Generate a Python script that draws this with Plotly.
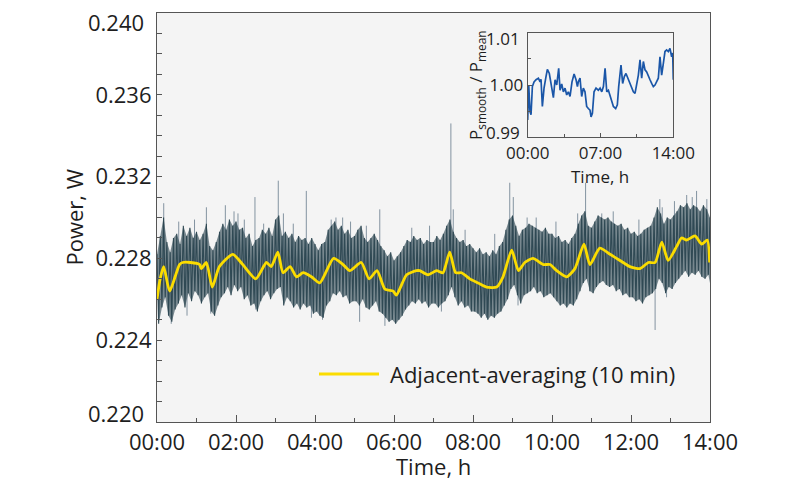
import plotly.graph_objects as go

# ---------------- data ----------------
# raw signal envelope per 5-min bin (hours, W): upper and lower excursions
raw_t = [i / 12 for i in range(169)]
raw_hi = [
    0.2282, 0.2291, 0.2300, 0.2288, 0.2283, 0.2290, 0.2292, 0.2287, 0.2296, 0.2291, 0.2295, 0.2290,
    0.2293, 0.2289, 0.2292, 0.2297, 0.2286, 0.2284, 0.2288, 0.2293, 0.2297, 0.2294, 0.2299, 0.2296,
    0.2298, 0.2294, 0.2295, 0.2290, 0.2292, 0.2286, 0.2289, 0.2290, 0.2294, 0.2292, 0.2295, 0.2291,
    0.2299, 0.2301, 0.2291, 0.2293, 0.2290, 0.2292, 0.2288, 0.2291, 0.2289, 0.2290, 0.2287, 0.2290,
    0.2287, 0.2284, 0.2287, 0.2288, 0.2294, 0.2296, 0.2298, 0.2294, 0.2296, 0.2292, 0.2294, 0.2290,
    0.2291, 0.2294, 0.2296, 0.2290, 0.2288, 0.2290, 0.2292, 0.2289, 0.2286, 0.2284, 0.2281, 0.2283,
    0.2279, 0.2281, 0.2283, 0.2286, 0.2289, 0.2288, 0.2291, 0.2289, 0.2290, 0.2287, 0.2289, 0.2288,
    0.2288, 0.2291, 0.2289, 0.2292, 0.2296, 0.2299, 0.2293, 0.2290, 0.2288, 0.2289, 0.2286, 0.2287,
    0.2285, 0.2283, 0.2285, 0.2282, 0.2283, 0.2281, 0.2284, 0.2282, 0.2286, 0.2288, 0.2294, 0.2299,
    0.2301, 0.2296, 0.2291, 0.2294, 0.2295, 0.2297, 0.2296, 0.2295, 0.2294, 0.2293, 0.2295, 0.2292,
    0.2292, 0.2290, 0.2291, 0.2288, 0.2289, 0.2287, 0.2290, 0.2292, 0.2297, 0.2301, 0.2303, 0.2296,
    0.2295, 0.2298, 0.2301, 0.2300, 0.2299, 0.2300, 0.2298, 0.2297, 0.2296, 0.2297, 0.2294, 0.2295,
    0.2292, 0.2293, 0.2291, 0.2292, 0.2294, 0.2295, 0.2296, 0.2300, 0.2305, 0.2302, 0.2297, 0.2300,
    0.2299, 0.2301, 0.2303, 0.2306, 0.2305, 0.2307, 0.2304, 0.2306, 0.2305, 0.2303, 0.2306, 0.2304,
    0.2300]
raw_lo = [
    0.2248, 0.2256, 0.2261, 0.2252, 0.2249, 0.2255, 0.2258, 0.2262, 0.2256, 0.2263, 0.2259, 0.2264,
    0.2262, 0.2258, 0.2261, 0.2263, 0.2254, 0.2252, 0.2257, 0.2261, 0.2263, 0.2266, 0.2262, 0.2267,
    0.2264, 0.2266, 0.2260, 0.2262, 0.2257, 0.2258, 0.2254, 0.2259, 0.2262, 0.2264, 0.2260, 0.2263,
    0.2265, 0.2266, 0.2257, 0.2261, 0.2259, 0.2256, 0.2258, 0.2255, 0.2258, 0.2256, 0.2257, 0.2253,
    0.2254, 0.2252, 0.2251, 0.2257, 0.2259, 0.2263, 0.2262, 0.2264, 0.2261, 0.2262, 0.2258, 0.2259,
    0.2259, 0.2257, 0.2260, 0.2256, 0.2255, 0.2257, 0.2259, 0.2254, 0.2253, 0.2251, 0.2249, 0.2250,
    0.2248, 0.2250, 0.2252, 0.2255, 0.2257, 0.2259, 0.2258, 0.2260, 0.2258, 0.2259, 0.2256, 0.2258,
    0.2258, 0.2256, 0.2258, 0.2259, 0.2262, 0.2266, 0.2261, 0.2257, 0.2259, 0.2256, 0.2257, 0.2254,
    0.2254, 0.2253, 0.2251, 0.2253, 0.2250, 0.2252, 0.2251, 0.2253, 0.2254, 0.2257, 0.2260, 0.2265,
    0.2267, 0.2262, 0.2258, 0.2262, 0.2263, 0.2264, 0.2266, 0.2263, 0.2264, 0.2261, 0.2262, 0.2263,
    0.2261, 0.2259, 0.2257, 0.2258, 0.2256, 0.2258, 0.2257, 0.2260, 0.2264, 0.2268, 0.2270, 0.2264,
    0.2263, 0.2266, 0.2268, 0.2269, 0.2267, 0.2266, 0.2267, 0.2264, 0.2265, 0.2262, 0.2263, 0.2261,
    0.2261, 0.2259, 0.2260, 0.2258, 0.2261, 0.2262, 0.2263, 0.2265, 0.2270, 0.2268, 0.2263, 0.2266,
    0.2265, 0.2268, 0.2270, 0.2272, 0.2274, 0.2271, 0.2273, 0.2272, 0.2274, 0.2271, 0.2270, 0.2272,
    0.2268]

# isolated spikes (hours, peak W, base W)
spike_t = [0.17, 1.25, 1.73, 1.95, 2.21, 2.48, 3.07, 3.20, 3.78, 4.41, 4.53, 4.90, 5.64,
           7.44, 7.50, 8.93, 9.02, 9.37, 10.85, 11.26, 12.73, 12.79, 13.41, 13.66, 13.92,
           0.36, 0.76, 1.36, 2.50, 3.91, 4.19, 5.13, 5.77, 6.10, 7.20, 8.34, 9.14, 10.44,
           12.61, 12.90,
           0.55, 0.95, 2.05, 2.70, 3.45, 4.70, 5.30, 6.45, 6.90, 7.80, 8.55, 9.60, 10.10,
           10.65, 11.55, 12.20, 13.10, 13.55]
spike_v = [0.2307, 0.2305, 0.2306, 0.2303, 0.2299, 0.2310, 0.2318, 0.2302, 0.2313, 0.2299,
           0.2300, 0.2298, 0.2304, 0.2346, 0.2304, 0.2317, 0.2310, 0.2300, 0.2317, 0.2302,
           0.2309, 0.2305, 0.2311, 0.2313, 0.2309,
           0.2248, 0.2252, 0.2253, 0.2255, 0.2251, 0.2250, 0.2249, 0.2247, 0.2250, 0.2254,
           0.2251, 0.2257, 0.2258, 0.2245, 0.2261,
           0.2298, 0.2299, 0.2302, 0.2297, 0.2297, 0.2300, 0.2296, 0.2295, 0.2296, 0.2294,
           0.2292, 0.2300, 0.2298, 0.2302, 0.2303, 0.2299, 0.2308, 0.2310]
spike_base = [0.2276, 0.2278, 0.2276, 0.2282, 0.2277, 0.2270, 0.2283, 0.2273, 0.2272, 0.2278,
              0.2280, 0.2275, 0.2273, 0.2282, 0.2276, 0.2282, 0.2283, 0.2277, 0.2287, 0.2285,
              0.2287, 0.2288, 0.2289, 0.2291, 0.2289,
              0.2264, 0.2278, 0.2266, 0.2270, 0.2271, 0.2268, 0.2278, 0.2265, 0.2263, 0.2273,
              0.2266, 0.2274, 0.2271, 0.2278, 0.2279,
              0.2276, 0.2278, 0.2281, 0.2276, 0.2272, 0.2278, 0.2271, 0.2274, 0.2272, 0.2271,
              0.2266, 0.2279, 0.2276, 0.2280, 0.2282, 0.2275, 0.2283, 0.2289]

# adjacent-averaging (10 min) curve
avg_t = [0.0, 0.08, 0.17, 0.32, 0.57, 0.65, 0.85, 1.08, 1.12, 1.25, 1.40, 1.58, 1.92, 2.17,
         2.50, 2.77, 2.89, 3.06, 3.19, 3.37, 3.53, 3.70, 3.91, 4.12, 4.47, 4.71, 4.88, 5.17,
         5.37, 5.57, 5.77, 5.98, 6.06, 6.32, 6.57, 6.65, 6.86, 7.08, 7.24, 7.41, 7.56, 7.71,
         7.92, 8.13, 8.34, 8.60, 8.76, 8.98, 9.15, 9.31, 9.52, 9.78, 9.95, 10.12, 10.37, 10.58,
         10.81, 10.96, 11.21, 11.47, 11.72, 11.97, 12.23, 12.44, 12.61, 12.78, 12.94, 13.16,
         13.28, 13.41, 13.62, 13.79, 13.93, 13.99]
avg_v = [0.2260, 0.2270, 0.2276, 0.2264, 0.2277, 0.2278, 0.2278, 0.2277, 0.2275, 0.2278,
         0.2266, 0.2276, 0.2282, 0.2277, 0.2270, 0.2278, 0.2276, 0.2283, 0.2273, 0.2276,
         0.2271, 0.2273, 0.2271, 0.2268, 0.2280, 0.2277, 0.2274, 0.2278, 0.2270, 0.2274,
         0.2265, 0.2264, 0.2262, 0.2272, 0.2274, 0.2274, 0.2272, 0.2274, 0.2273, 0.2283,
         0.2273, 0.2273, 0.2270, 0.2268, 0.2266, 0.2266, 0.2271, 0.2284, 0.2274, 0.2278,
         0.2280, 0.2277, 0.2277, 0.2274, 0.2271, 0.2275, 0.2287, 0.2277, 0.2285, 0.2282,
         0.2279, 0.2276, 0.2275, 0.2278, 0.2278, 0.2288, 0.2279, 0.2286, 0.2290, 0.2289,
         0.2291, 0.2287, 0.2289, 0.2278]

# inset: P_smooth / P_mean
ins_t = [0.0, 0.10, 0.22, 0.32, 0.45, 0.61, 0.80, 1.03, 1.19, 1.28, 1.41, 1.57, 1.76, 1.89,
         2.08, 2.31, 2.47, 2.63, 2.79, 2.98, 3.11, 3.27, 3.43, 3.59, 3.75, 3.91, 4.07, 4.26,
         4.46, 4.65, 4.78, 4.87, 5.03, 5.19, 5.35, 5.51, 5.67, 5.83, 5.99, 6.09, 6.22, 6.38,
         6.57, 6.79, 6.96, 7.12, 7.28, 7.44, 7.60, 7.76, 7.92, 8.08, 8.24, 8.46, 8.62, 8.75,
         8.97, 9.13, 9.29, 9.45, 9.68, 9.84, 10.00, 10.16, 10.32, 10.48, 10.64, 10.80, 10.96,
         11.12, 11.28, 11.44, 11.60, 11.76, 11.92, 12.08, 12.24, 12.40, 12.56, 12.72, 12.88,
         13.04, 13.20, 13.36, 13.52, 13.68, 13.84, 13.94, 14.0]
ins_v = [0.9933, 1.0000, 0.9949, 0.9943, 0.9997, 1.0006, 1.0010, 1.0013, 1.0006, 1.0011,
         0.9959, 0.9994, 1.0016, 1.0030, 1.0022, 0.9997, 0.9976, 1.0010, 1.0000, 1.0032,
         0.9990, 1.0002, 0.9987, 0.9994, 0.9981, 0.9987, 0.9978, 1.0006, 1.0021, 1.0010,
         0.9997, 1.0006, 1.0013, 0.9978, 0.9994, 0.9987, 0.9959, 0.9955, 0.9952, 0.9939,
         0.9946, 0.9987, 0.9994, 0.9990, 0.9994, 0.9987, 0.9997, 1.0032, 0.9987, 0.9990,
         0.9981, 0.9971, 0.9959, 0.9955, 0.9962, 0.9997, 1.0038, 1.0003, 1.0016, 1.0022,
         1.0010, 1.0003, 0.9994, 0.9987, 0.9984, 1.0000, 1.0019, 1.0048, 1.0013, 1.0045,
         1.0029, 1.0025, 1.0019, 1.0010, 1.0003, 0.9997, 1.0000, 1.0006, 1.0013, 1.0054,
         1.0019, 1.0041, 1.0064, 1.0067, 1.0064, 1.0070, 1.0054, 1.0061, 1.0010]

x_tickvals = [0, 2, 4, 6, 8, 10, 12, 14]
x_ticktext = ["00:00", "02:00", "04:00", "06:00", "08:00", "10:00", "12:00", "14:00"]
y_tickvals = [0.220, 0.224, 0.228, 0.232, 0.236, 0.240]
y_ticktext = ["0.220", "0.224", "0.228", "0.232", "0.236", "0.240"]
ins_x_tickvals = [0, 7, 14]
ins_x_ticktext = ["00:00", "07:00", "14:00"]
ins_y_tickvals = [0.99, 1.00, 1.01]
ins_y_ticktext = ["0.99", "1.00", "1.01"]

FONT = "Open Sans"
RAW = "#2c4651"
RAW_LIGHT = "#8393a0"
YELLOW = "#fbdc00"
BLUE = "#1a56a8"
AXC = "#555555"
TXT = "#1e1e1e"

# plot-area geometry (pixels)
L, R, T, B = 157, 90, 13, 78
PW, PH = 800 - L - R, 500 - T - B


def px(x):
    return (x - L) / PW


def py(y):
    return (500 - B - y) / PH


# ---------------- build traces ----------------
step = raw_t[1] - raw_t[0]
zx, zy = [], []
for t, h, l in zip(raw_t, raw_hi, raw_lo):
    zx.append(t)
    zy.append(h)
    if t + step / 2 <= 14:
        zx.append(t + step / 2)
        zy.append(l)

band_x = list(raw_t) + [min(t + step / 2, 14) for t in raw_t[::-1]]
band_y = list(raw_hi) + list(raw_lo[::-1])

sx, sy = [], []
for t, v, b in zip(spike_t, spike_v, spike_base):
    sx += [t, t, None]
    sy += [b, v, None]

fig = go.Figure()
fig.add_trace(go.Scatter(x=sx, y=sy, mode="lines", line=dict(color=RAW_LIGHT, width=1),
                         showlegend=False, hoverinfo="skip"))
fig.add_trace(go.Scatter(x=band_x, y=band_y, mode="lines", fill="toself",
                         fillcolor="rgba(44,70,81,0.62)", line=dict(width=0),
                         showlegend=False, hoverinfo="skip"))
fig.add_trace(go.Scatter(x=zx, y=zy, mode="lines", line=dict(color=RAW, width=1.1),
                         opacity=0.95, showlegend=False, name="raw"))
fig.add_trace(go.Scatter(x=avg_t, y=avg_v, mode="lines",
                         line=dict(color=YELLOW, width=2.8, shape="spline", smoothing=0.6),
                         showlegend=False, name="Adjacent-averaging (10 min)"))
fig.add_trace(go.Scatter(x=ins_t, y=ins_v, mode="lines", xaxis="x2", yaxis="y2",
                         line=dict(color=BLUE, width=1.7), showlegend=False))

axis_common = dict(showgrid=False, zeroline=False, showline=True, linecolor=AXC,
                   linewidth=1.2, mirror=True, ticks="inside", tickcolor=AXC,
                   automargin=False, ticklabeloverflow="allow")

# end labels are drawn as annotations (shifted inward like in the original)
main_y_text = ["", "0.224", "0.228", "0.232", "0.236", ""]
ins_y_text = ["", "1.00", ""]

fig.update_layout(
    width=800, height=500,
    margin=dict(l=L, r=R, t=T, b=B, autoexpand=False),
    paper_bgcolor="white", plot_bgcolor="#f4f4f4",
    font=dict(family=FONT, size=22, color=TXT),
    xaxis=dict(range=[0, 14], tickvals=x_tickvals, ticktext=x_ticktext, ticklen=7,
               minor=dict(dtick=1, ticklen=4, ticks="inside", tickcolor=AXC),
               tickfont=dict(size=22), **axis_common),
    yaxis=dict(range=[0.220, 0.240], tickvals=y_tickvals, ticktext=main_y_text, ticklen=5,
               minor=dict(dtick=0.001, tick0=0.220, ticklen=5, ticks="inside", tickcolor=AXC),
               tickfont=dict(size=22), **axis_common),
    xaxis2=dict(domain=[px(527.7), px(673.3)], anchor="y2", range=[0, 14],
                tickvals=ins_x_tickvals, ticktext=ins_x_ticktext, ticklen=4,
                minor=dict(tickvals=[3.5, 10.5], ticklen=3, ticks="inside", tickcolor=AXC),
                tickfont=dict(size=17), **axis_common),
    yaxis2=dict(domain=[py(137.3), py(32.7)], anchor="x2", range=[0.99, 1.01],
                tickvals=ins_y_tickvals, ticktext=ins_y_text, ticklen=4,
                minor=dict(tickvals=[0.995, 1.005], ticklen=3, ticks="inside", tickcolor=AXC),
                tickfont=dict(size=17), **axis_common),
    shapes=[
        dict(type="rect", xref="x2 domain", yref="y2 domain", x0=0, x1=1, y0=0, y1=1,
             fillcolor="#eef2f8", line=dict(width=0), layer="below"),
        dict(type="line", xref="paper", yref="paper",
             x0=px(319), x1=px(379), y0=py(374), y1=py(374),
             line=dict(color=YELLOW, width=2.8)),
    ],
    annotations=[
        dict(text=y_ticktext[-1], xref="paper", yref="paper", x=px(146), y=py(21.5),
             xanchor="right", yanchor="middle", showarrow=False, font=dict(size=22)),
        dict(text=y_ticktext[0], xref="paper", yref="paper", x=px(146), y=py(413),
             xanchor="right", yanchor="middle", showarrow=False, font=dict(size=22)),
        dict(text=ins_y_ticktext[-1], xref="paper", yref="paper", x=px(522), y=py(38),
             xanchor="right", yanchor="middle", showarrow=False, font=dict(size=17)),
        dict(text=ins_y_ticktext[0], xref="paper", yref="paper", x=px(522), y=py(132.5),
             xanchor="right", yanchor="middle", showarrow=False, font=dict(size=17)),
        dict(text="Adjacent-averaging (10 min)", xref="paper", yref="paper",
             x=px(388), y=py(374), xanchor="left", yanchor="middle",
             showarrow=False, font=dict(size=22)),
        dict(text="Time, h", xref="paper", yref="paper", x=px(433), y=py(466),
             xanchor="center", yanchor="middle", showarrow=False, font=dict(size=22)),
        dict(text="Power, W", xref="paper", yref="paper", x=px(73), y=0.5,
             xanchor="center", yanchor="middle", textangle=-90, showarrow=False,
             font=dict(size=22)),
        dict(text="Time, h", xref="paper", yref="paper", x=px(600), y=py(177),
             xanchor="center", yanchor="middle", showarrow=False, font=dict(size=17)),
        dict(text="P<sub>smooth</sub> / P<sub>mean</sub>", xref="paper", yref="paper",
             x=px(476), y=py(85), xanchor="center", yanchor="middle",
             textangle=-90, showarrow=False, font=dict(size=17)),
    ],
)

fig.write_html("out.html", config={"displayModeBar": False},
               post_script="document.body.style.margin='0';")
